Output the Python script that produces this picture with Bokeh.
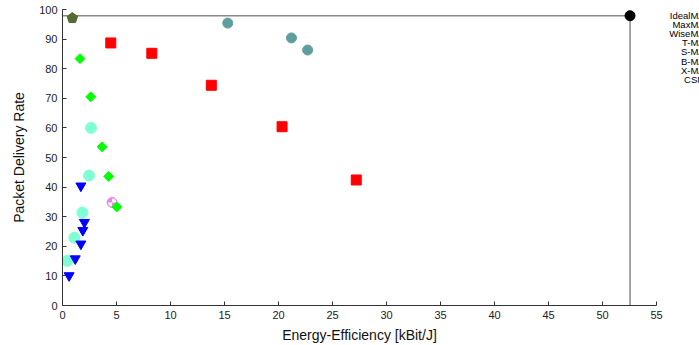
import numpy as np
from bokeh.plotting import figure
from bokeh.layouts import row
from bokeh.models import Range1d, FixedTicker
from bokeh.core.properties import value
from bokeh.embed import file_html
from bokeh.resources import INLINE

# ---- data ----
x_ticks = [0, 5, 10, 15, 20, 25, 30, 35, 40, 45, 50, 55]
y_ticks = [0, 10, 20, 30, 40, 50, 60, 70, 80, 90, 100]
legend_labels = ["IdealMAC", "MaxMAC", "WiseMAC", "T-MAC", "S-MAC", "B-MAC", "X-MAC", "CSMA"]

ideal_x = [52.55]
ideal_y = [97.9]
maxmac_x = [0.91]
maxmac_y = [97.1]
wisemac_x = [15.3, 21.2, 22.7]
wisemac_y = [95.4, 90.4, 86.3]
tmac_x = [4.47, 8.27, 13.78, 20.33, 27.2]
tmac_y = [88.7, 85.2, 74.4, 60.4, 42.4]
smac_x = [1.62, 2.62, 3.67, 4.28, 5.03]
smac_y = [83.4, 70.5, 53.6, 43.6, 33.3]
bmac_x = [2.64, 2.46, 1.84, 1.10, 0.45]
bmac_y = [60.0, 43.9, 31.4, 22.9, 15.1]
xmac_x = [1.70, 2.03, 1.88, 1.70, 1.18, 0.61]
xmac_y = [40.4, 28.1, 25.4, 20.8, 15.8, 10.1]
csma_x = [4.59]
csma_y = [34.8]

FONT = "Liberation Sans"
W, H = 663, 345
BL, BR, BT, BB = 62, 7, 9, 39
Y_END = 100

p = figure(width=W, height=H, output_backend="svg", toolbar_location=None,
           x_range=Range1d(0, 55), y_range=Range1d(0, Y_END),
           min_border_left=BL, min_border_right=BR, min_border_top=BT, min_border_bottom=BB)
p.outline_line_color = None
p.xgrid.visible = False
p.ygrid.visible = False
p.background_fill_color = "white"
p.border_fill_color = "white"

for ax, ticks, bounds in ((p.xaxis, x_ticks, (0, 55)), (p.yaxis, y_ticks, (0, 100))):
    ax.ticker = FixedTicker(ticks=ticks)
    ax.bounds = bounds
    ax.major_tick_in = 4
    ax.major_tick_out = 0
    ax.minor_tick_line_color = None
    ax.axis_line_color = "#333333"
    ax.major_tick_line_color = "#333333"
    ax.major_label_text_font = FONT
    ax.major_label_text_font_size = "11px"
    ax.major_label_text_color = "#222222"
    ax.major_label_standoff = 5
    ax.axis_label_text_font = FONT
    ax.axis_label_text_font_size = "14px"
    ax.axis_label_text_font_style = "normal"
    ax.axis_label_text_color = "#111111"

p.xaxis.axis_label = "Energy-Efficiency [kBit/J]"
p.yaxis.axis_label = "Packet Delivery Rate"
p.xaxis.axis_label_standoff = 5
p.yaxis.axis_label_standoff = 9

# ideal reference lines
p.segment(x0=[0], y0=ideal_y, x1=ideal_x, y1=ideal_y, line_color="#888888", line_width=1.5)
p.segment(x0=ideal_x, y0=ideal_y, x1=ideal_x, y1=[0], line_color="#888888", line_width=1.5)

# scales for pixel-sized pentagon
pxx = (W - BL - BR) / 55.0
pxy = (H - BT - BB) / Y_END
r = 5.5
ang = np.pi / 2 + np.arange(5) * 2 * np.pi / 5
for cx, cy in zip(maxmac_x, maxmac_y):
    p.patch(cx + r * np.cos(ang) / pxx, cy + r * np.sin(ang) / pxy,
            fill_color="#556b2f", line_color="#556b2f")

p.scatter(wisemac_x, wisemac_y, marker="circle", size=10, fill_color="#5f9ea0", line_color="#5f9ea0")
p.scatter(tmac_x, tmac_y, marker="square", size=10, fill_color="#ff0000", line_color="#ff0000")
# CSMA checkered circle
p.scatter(csma_x, csma_y, marker="circle", size=10, fill_color="#ee82ee", line_color="#ee82ee")
p.wedge(x=csma_x, y=csma_y, radius=4, radius_units="screen", start_angle=0, end_angle=np.pi / 2,
        fill_color="white", line_color=None)
p.wedge(x=csma_x, y=csma_y, radius=4, radius_units="screen", start_angle=np.pi, end_angle=1.5 * np.pi,
        fill_color="white", line_color=None)
p.scatter(smac_x, smac_y, marker="square", angle=np.pi / 4, size=7, fill_color="#00ff00", line_color="#00ff00")
p.scatter(bmac_x, bmac_y, marker="circle", size=11, fill_color="#7fffd4", line_color="#7fffd4")
p.scatter(xmac_x, xmac_y, marker="inverted_triangle", size=10, fill_color="#0000ff", line_color="#0000ff")
p.scatter(ideal_x, ideal_y, marker="circle", size=10, fill_color="black", line_color="black")

# legend strip on the right: texts right-aligned, partly beyond the visible area as in the reference
LW = 699 - W
q = figure(title=None, frame_width=LW, frame_height=H, output_backend="svg", toolbar_location=None,
           x_range=Range1d(0, LW), y_range=Range1d(0, H),
           x_axis_location=None, y_axis_location=None,
           min_border=0, min_border_left=0, min_border_right=0, min_border_top=0, min_border_bottom=0)
q.outline_line_color = None
q.xgrid.visible = False
q.ygrid.visible = False
leg_y = [H - (5.5 + i * 9.2) for i in range(len(legend_labels))]
q.text(x=[711 - W] * len(legend_labels), y=leg_y, text=legend_labels,
       text_align="right", text_baseline="middle", text_font=value(FONT),
       text_font_size="9.5px", text_color="black")

open("out.html", "w").write(file_html(row(p, q), INLINE))
